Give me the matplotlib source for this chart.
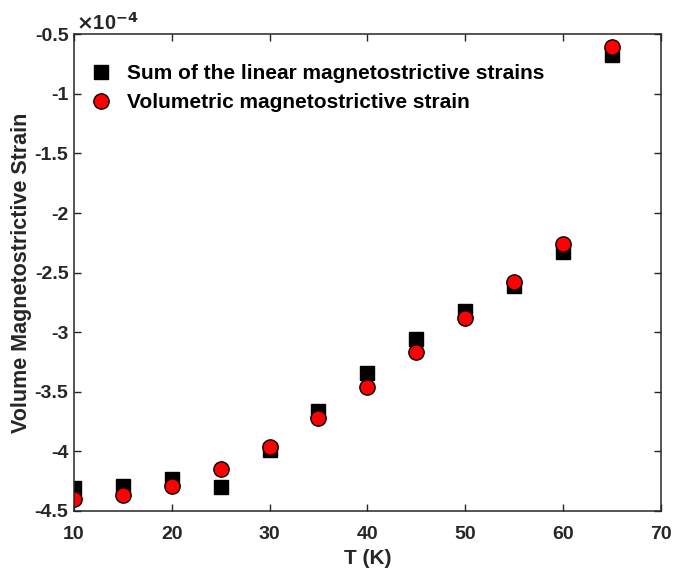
import matplotlib
matplotlib.use('Agg')
import matplotlib.pyplot as plt
import numpy as np

plt.rcParams['font.family'] = ['Liberation Sans', 'DejaVu Sans']
plt.rcParams['font.weight'] = 'bold'

# temperatures (K)
temps = [10, 15, 20, 25, 30, 35, 40, 45, 50, 55, 60, 65]
# strains in units of 1e-4
sum_linear = [-4.31, -4.29, -4.23, -4.30, -3.99, -3.66, -3.34, -3.06, -2.82, -2.61, -2.33, -0.67]
volumetric = [-4.40, -4.37, -4.29, -4.15, -3.96, -3.72, -3.46, -3.17, -2.88, -2.58, -2.26, -0.61]

xticks = [10, 20, 30, 40, 50, 60, 70]
yticks = [-4.5, -4, -3.5, -3, -2.5, -2, -1.5, -1, -0.5]
ytick_labels = ['-4.5', '-4', '-3.5', '-3', '-2.5', '-2', '-1.5', '-1', '-0.5']

fig = plt.figure(figsize=(6.75, 5.77), dpi=100)
ax = fig.add_axes([0.1096, 0.1144, 0.8694, 0.8262])

edge = '#262626'
ax.plot(temps, sum_linear, 's', color='black', markersize=9.5, linestyle='none',
        label='Sum of the linear magnetostrictive strains')
ax.plot(temps, volumetric, 'o', markerfacecolor='red', markeredgecolor='black',
        markeredgewidth=1.0, markersize=11, linestyle='none',
        label='Volumetric magnetostrictive strain')

ax.set_xlim(10, 70)
ax.set_ylim(-4.5, -0.5)
ax.set_xticks(xticks)
ax.set_yticks(yticks)
ax.set_yticklabels(ytick_labels)
ax.tick_params(direction='in', length=5, width=1, top=True, right=True,
               labelsize=14, colors=edge)
ax.tick_params(axis='x', pad=11)
ax.tick_params(axis='y', pad=4)
for lab in ax.get_xticklabels() + ax.get_yticklabels():
    lab.set_fontweight('bold')
for sp in ax.spines.values():
    sp.set_color(edge)
    sp.set_linewidth(1.1)

ax.set_xlabel('T (K)', fontsize=15, fontweight='bold', color=edge, labelpad=4)
ax.set_ylabel('Volume Magnetostrictive Strain', fontsize=15.5, fontweight='bold',
              color=edge, labelpad=2)

ax.text(0.004, 1.0, r'$\times$10$^{\mathbf{-4}}$', transform=ax.transAxes,
        fontsize=14.5, fontweight='bold', color=edge, ha='left', va='bottom')

leg = ax.legend(loc='upper left', frameon=False, fontsize=15, handletextpad=0.65,
                borderaxespad=0.0, labelspacing=0.48, handlelength=1.2,
                bbox_to_anchor=(0.01, 0.955))
for t in leg.get_texts():
    t.set_fontweight('bold')

fig.savefig('out.png', dpi=100)
